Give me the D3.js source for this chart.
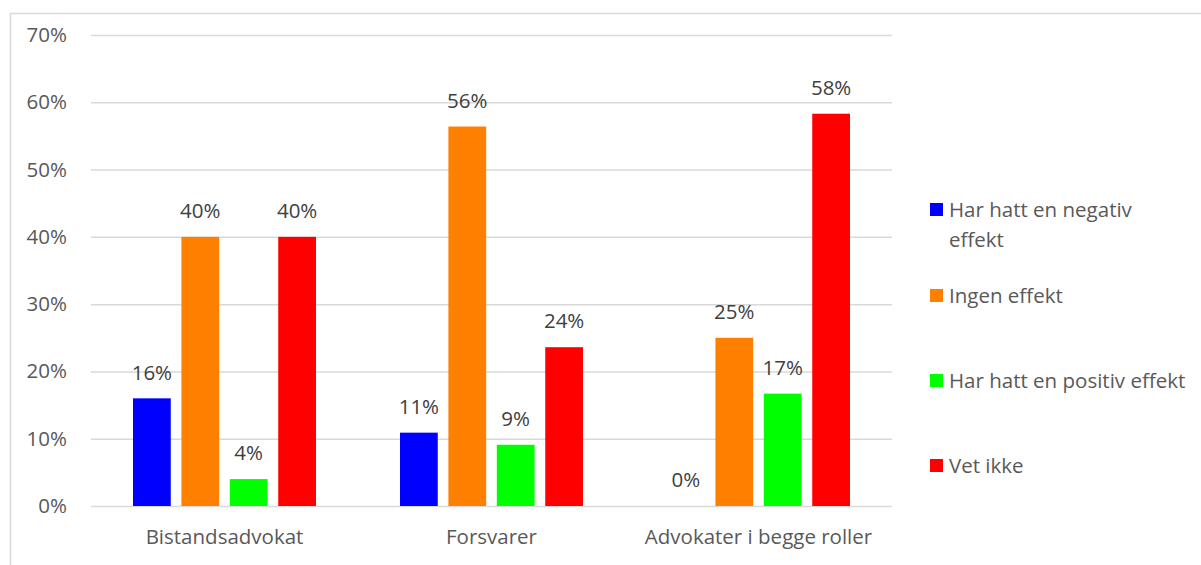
<!DOCTYPE html>
<html><head><meta charset="utf-8">
<script src="https://cdn.jsdelivr.net/npm/d3@7"></script>
<style>body{margin:0;background:#fff}svg{display:block}text{font-family:"Open Sans",sans-serif}</style>
</head><body><svg id="c" width="1201" height="565"></svg>
<script>
const categories = ["Bistandsadvokat", "Forsvarer", "Advokater i begge roller"];
const seriesNames = ["Har hatt en negativ effekt", "Ingen effekt", "Har hatt en positiv effekt", "Vet ikke"];
const seriesColors = ["#0000ff", "#ff8000", "#00ff00", "#ff0000"];
const negativ = [16, 10.9, 0];
const ingen = [40, 56.4, 25];
const positiv = [4, 9.1, 16.7];
const vetIkke = [40, 23.6, 58.3];
const yTicks = [0, 10, 20, 30, 40, 50, 60, 70];

const series = [negativ, ingen, positiv, vetIkke];
const svg = d3.select("#c");
const plotLeft = 91, plotRight = 892, plotTop = 35, plotBottom = 506;
const fs = "20.5px";

svg.append("rect").attr("x", 10.5).attr("y", 13.5).attr("width", 1200).attr("height", 560)
  .attr("fill", "none").attr("stroke", "#d9d9d9").attr("stroke-width", 1.5);

const y = d3.scaleLinear().domain([0, 70]).range([plotBottom, plotTop]);
const x0 = d3.scaleBand().domain(categories).range([plotLeft, plotRight]).padding(0);
const inset = 42;
const x1 = d3.scaleBand().domain(d3.range(4)).range([inset, x0.bandwidth() - inset]).paddingInner(0.22).paddingOuter(0);

// gridlines
const yAxis = d3.axisLeft(y).tickValues(yTicks).tickFormat(d => d + "%").tickSize(-(plotRight - plotLeft)).tickPadding(24);
const ga = svg.append("g").attr("transform", `translate(${plotLeft},0)`).call(yAxis);
ga.select(".domain").remove();
ga.selectAll(".tick line").attr("stroke", "#d9d9d9").attr("stroke-width", 1.5);
ga.selectAll(".tick text").attr("fill", "#595959").style("font-size", fs);

// bars
categories.forEach((c, ci) => {
  const g = svg.append("g").attr("transform", `translate(${x0(c)},0)`);
  series.forEach((s, si) => {
    const v = s[ci];
    g.append("rect").attr("x", x1(si)).attr("width", x1.bandwidth())
      .attr("y", y(v)).attr("height", y(0) - y(v)).attr("fill", seriesColors[si]);
    g.append("text").attr("x", x1(si) + x1.bandwidth() / 2).attr("y", y(v) - 26)
      .attr("text-anchor", "middle").attr("dy", "0.35em").attr("fill", "#404040")
      .style("font-size", fs).text(Math.round(v) + "%");
  });
});

// x axis labels
const xAxis = d3.axisBottom(x0).tickSize(0).tickPadding(23);
const gx = svg.append("g").attr("transform", `translate(0,${plotBottom})`).call(xAxis);
gx.select(".domain").remove();
gx.selectAll(".tick text").attr("fill", "#595959").style("font-size", fs);

// legend
const legendLines = [["Har hatt en negativ", "effekt"], ["Ingen effekt"], ["Har hatt en positiv effekt"], ["Vet ikke"]];
const legendY = [210, 296, 381, 466];
legendLines.forEach((lines, i) => {
  svg.append("rect").attr("x", 930).attr("y", legendY[i] - 7).attr("width", 13).attr("height", 13).attr("fill", seriesColors[i]);
  lines.forEach((t, li) => {
    svg.append("text").attr("x", 949).attr("y", legendY[i] + li * 30).attr("dy", "0.35em")
      .attr("fill", "#595959").style("font-size", fs).text(t);
  });
});
</script></body></html>
